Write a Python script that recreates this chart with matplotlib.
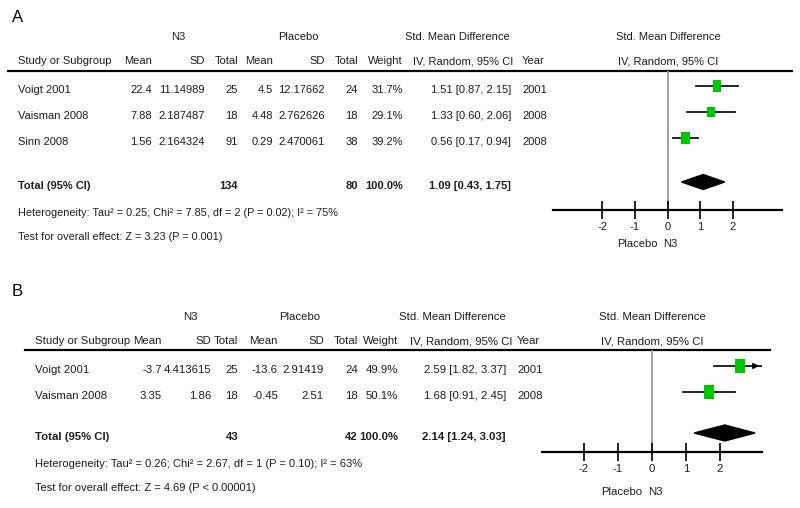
import matplotlib
matplotlib.use('Agg')
import matplotlib.pyplot as plt
from matplotlib.patches import Rectangle, Polygon

plt.rcParams['font.family'] = ['Liberation Sans', 'DejaVu Sans']

# ---- data: panel A
studies_a = ['Voigt 2001', 'Vaisman 2008', 'Sinn 2008']
n3_mean_a = [22.4, 7.88, 1.56]
n3_sd_a = [11.14989, 2.187487, 2.164324]
n3_n_a = [25, 18, 91]
pl_mean_a = [4.5, 4.48, 0.29]
pl_sd_a = [12.17662, 2.762626, 2.470061]
pl_n_a = [24, 18, 38]
weight_a = [31.7, 29.1, 39.2]
smd_a = [1.51, 1.33, 0.56]
lo_a = [0.87, 0.60, 0.17]
hi_a = [2.15, 2.06, 0.94]
year_a = [2001, 2008, 2008]
total_a = [134, 80, 1.09, 0.43, 1.75]
het_a = 'Heterogeneity: Tau² = 0.25; Chi² = 7.85, df = 2 (P = 0.02); I² = 75%'
test_a = 'Test for overall effect: Z = 3.23 (P = 0.001)'

# ---- data: panel B
studies_b = ['Voigt 2001', 'Vaisman 2008']
n3_mean_b = [-3.7, 3.35]
n3_sd_b = [4.413615, 1.86]
n3_n_b = [25, 18]
pl_mean_b = [-13.6, -0.45]
pl_sd_b = [2.91419, 2.51]
pl_n_b = [24, 18]
weight_b = [49.9, 50.1]
smd_b = [2.59, 1.68]
lo_b = [1.82, 0.91]
hi_b = [3.37, 2.45]
year_b = [2001, 2008]
total_b = [43, 42, 2.14, 1.24, 3.03]
het_b = 'Heterogeneity: Tau² = 0.26; Chi² = 2.67, df = 1 (P = 0.10); I² = 63%'
test_b = 'Test for overall effect: Z = 4.69 (P < 0.00001)'

ticks = [-2, -1, 0, 1, 2]

W, H = 800, 508
fig = plt.figure(figsize=(8, 5.08), dpi=100)
tab = fig.add_axes([0, 0, 1, 1])
tab.set_xlim(0, W)
tab.set_ylim(H, 0)
tab.axis('off')

TXT = '#1e1e1e'


def panel(letter, studies, m1, s1, n1, m2, s2, n2, wt, est, lo, hi, yr, tot,
          het, test, L):
    fs = L['fs']
    t = lambda x, y, s, **kw: tab.text(x, y, s, fontsize=kw.pop('fs', fs),
                                       color=TXT, va='center', **kw)
    tab.text(12, L['y_letter'], letter, fontsize=12, va='center')
    # group headers
    t(L['c_n3'], L['y_grp'], 'N3', ha='center')
    t(L['c_pl'], L['y_grp'], 'Placebo', ha='center')
    t(L['c_smd'], L['y_grp'], 'Std. Mean Difference', ha='center')
    t(L['c_plot'], L['y_grp'], 'Std. Mean Difference', ha='center')
    # column headers
    yh = L['y_head']
    cx = L['cols']
    t(L['x0'], yh, 'Study or Subgroup', ha='left')
    for s, x in zip(['Mean', 'SD', 'Total', 'Mean', 'SD', 'Total', 'Weight'], cx):
        t(x, yh, s, ha='right')
    t(L['c_iv'], yh, 'IV, Random, 95% CI', ha='center')
    t(L['x_year'], yh, 'Year', ha='left')
    t(L['c_plot'], yh, 'IV, Random, 95% CI', ha='center')
    tab.plot([L['line'][0], L['line'][1]], [L['y_line'], L['y_line']],
             color='black', lw=1.6)

    for i, name in enumerate(studies):
        y = L['rows'][i]
        t(L['x0'], y, name, ha='left')
        vals = [str(m1[i]), str(s1[i]), str(n1[i]), str(m2[i]), str(s2[i]),
                str(n2[i]), '%.1f%%' % wt[i]]
        for s, x in zip(vals, cx):
            t(x, y, s, ha='right')
        t(L['x_ci'], y, '%.2f [%.2f, %.2f]' % (est[i], lo[i], hi[i]), ha='right')
        t(L['x_year'], y, str(yr[i]), ha='left')

    yt = L['y_total']
    t(L['x0'], yt, 'Total (95% CI)', ha='left', weight='bold')
    t(cx[2], yt, str(tot[0]), ha='right', weight='bold')
    t(cx[5], yt, str(tot[1]), ha='right', weight='bold')
    t(cx[6], yt, '100.0%', ha='right', weight='bold')
    t(L['x_ci'], yt, '%.2f [%.2f, %.2f]' % (tot[2], tot[3], tot[4]),
      ha='right', weight='bold')
    t(L['x0'], L['y_het'], het, ha='left', fs=fs - 0.2)
    t(L['x0'], L['y_test'], test, ha='left', fs=fs - 0.2)

    # forest plot
    px0, px1 = L['px']
    top, bot = L['y_line'], L['y_axis']
    ax = fig.add_axes([px0 / W, 1 - bot / H, (px1 - px0) / W, (bot - top) / H])
    xl = L['xlim']
    ax.set_xlim(-xl, xl)
    ax.set_ylim(bot, top)
    ax.patch.set_alpha(0)
    for sp in ['top', 'left', 'right']:
        ax.spines[sp].set_visible(False)
    ax.spines['bottom'].set_linewidth(1.6)
    ax.set_yticks([])
    ax.set_xticks(ticks)
    ax.set_xticklabels([str(v) for v in ticks])
    ax.tick_params(axis='x', direction='inout', length=13, width=1.2,
                   labelsize=fs, labelcolor=TXT, pad=2)
    ax.axvline(0, color='#999999', lw=1.3, zorder=1)
    upp = (px1 - px0) / (2 * xl)  # pixels per unit
    for i in range(len(studies)):
        y = L['rows'][i] - L['moff']
        h = L['sq'] * wt[i] ** 0.5
        w = h * 0.72 / upp
        right = min(hi[i], xl)
        ax.plot([lo[i], right], [y, y], color='black', lw=1.2, zorder=2)
        if hi[i] > xl:
            ax.annotate('', xy=(xl, y), xytext=(xl - 0.3, y),
                        arrowprops=dict(arrowstyle='-|>', color='black',
                                        lw=1.2, mutation_scale=8),
                        annotation_clip=False)
        ax.add_patch(Rectangle((est[i] - w / 2, y - h / 2), w, h,
                               facecolor='#00c800', edgecolor='none', zorder=3))
    yd = yt - L['moff']
    dh = L['dh']
    ax.add_patch(Polygon([[tot[3], yd], [tot[2], yd - dh / 2], [tot[4], yd],
                          [tot[2], yd + dh / 2]], closed=True,
                         facecolor='black', edgecolor='black', zorder=3))
    ax.text(-0.3, L['y_fav'], 'Placebo', ha='right', va='center', fontsize=fs,
            color=TXT)
    ax.text(-0.12, L['y_fav'], 'N3', ha='left', va='center', fontsize=fs,
            color=TXT)


layout_a = dict(fs=8.0, y_letter=17, y_grp=37, y_head=61, y_line=71,
                rows=[90, 116, 142], y_total=186, y_het=213, y_test=237,
                y_axis=210, y_fav=244, x0=18,
                cols=[152, 205, 238, 273, 325, 358, 403],
                c_n3=178, c_pl=298, c_smd=457, c_iv=463, c_plot=668, x_ci=511,
                x_year=522, line=(8, 792), px=(553, 782), xlim=3.5,
                moff=4, sq=2.0, dh=15)
layout_b = dict(fs=8.2, y_letter=292, y_grp=317, y_head=341, y_line=350,
                rows=[370, 396], y_total=437, y_het=464, y_test=488,
                y_axis=452, y_fav=492, x0=35,
                cols=[162, 211, 238, 278, 324, 358, 398],
                c_n3=190, c_pl=300, c_smd=452, c_iv=461, c_plot=652, x_ci=506,
                x_year=517, line=(25, 770), px=(542, 762), xlim=3.235,
                moff=4, sq=2.0, dh=16)

panel('A', studies_a, n3_mean_a, n3_sd_a, n3_n_a, pl_mean_a, pl_sd_a, pl_n_a,
      weight_a, smd_a, lo_a, hi_a, year_a, total_a, het_a, test_a, layout_a)
panel('B', studies_b, n3_mean_b, n3_sd_b, n3_n_b, pl_mean_b, pl_sd_b, pl_n_b,
      weight_b, smd_b, lo_b, hi_b, year_b, total_b, het_b, test_b, layout_b)

fig.savefig('out.png', dpi=100)
